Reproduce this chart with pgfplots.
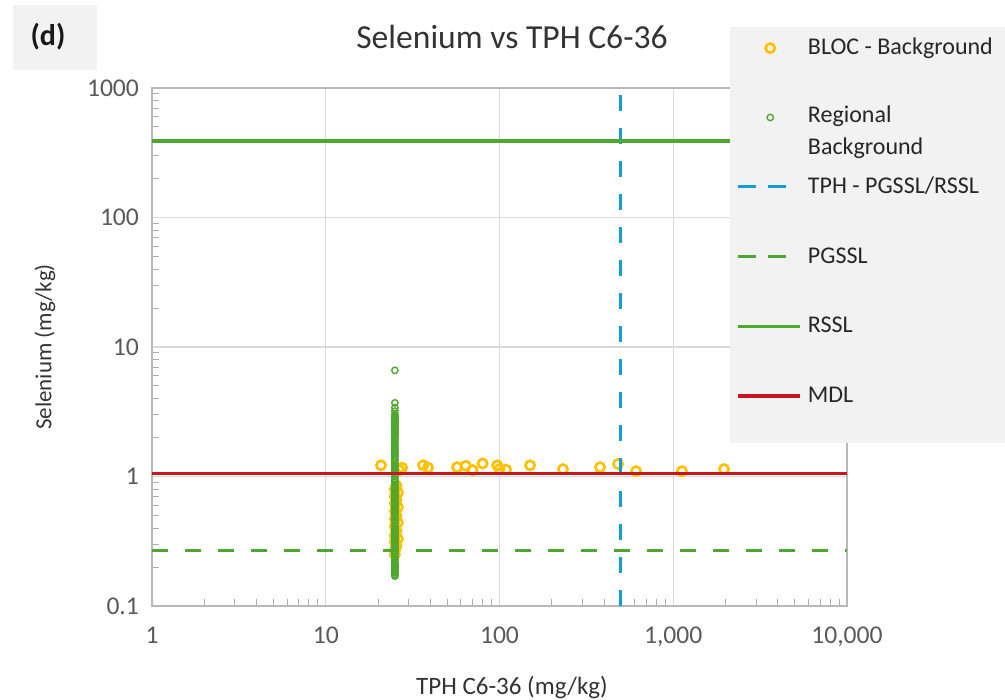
\documentclass[border=0pt]{standalone}
\usepackage{fontspec}
\setmainfont{Carlito}
\usepackage{pgfplots}
\pgfplotsset{compat=1.18}
\definecolor{bloc}{HTML}{FFC000}
\definecolor{regional}{HTML}{4EA72E}
\definecolor{tphblue}{HTML}{0F9ED5}
\definecolor{mdlred}{HTML}{C8161E}
\definecolor{gridgray}{HTML}{D9D9D9}
\definecolor{boxgray}{HTML}{F2F2F2}
\definecolor{txtgray}{HTML}{595959}

\pgfplotsset{
  linelegend/.style={legend image code/.code={\draw[##1] (0pt,0pt) -- (31pt,0pt);}},
  dashlegend/.style={legend image code/.code={\draw[##1, dash pattern=on 9pt off 6pt] (0pt,0pt) -- (24pt,0pt);}},
  marklegend/.style={legend image code/.code={\draw[mark repeat=2,mark phase=2,##1] plot coordinates {(0pt,0pt) (16pt,0pt) (31pt,0pt)};}},
}

\begin{document}
\begin{tikzpicture}
\path[use as bounding box] (0pt,0pt) rectangle (502.5pt,350pt);
\begin{axis}[
  at={(76pt,47pt)}, anchor=south west,
  scale only axis, width=347.5pt, height=259pt,
  xmode=log, ymode=log,
  xmin=1, xmax=10000, ymin=0.1, ymax=1000,
  xtick={1,10,100,1000,10000},
  xticklabels={1,10,100,{1,000},{10,000}},
  ytick={0.1,1,10,100,1000},
  yticklabels={0.1,1,10,100,1000},
  minor xtick={2,3,4,5,6,7,8,9,20,30,40,50,60,70,80,90,200,300,400,500,600,700,800,900,2000,3000,4000,5000,6000,7000,8000,9000},
  minor ytick={0.2,0.3,0.4,0.5,0.6,0.7,0.8,0.9,2,3,4,5,6,7,8,9,20,30,40,50,60,70,80,90,200,300,400,500,600,700,800,900},
  tick align=inside, tick pos=left,
  major tick length=0pt, minor tick length=3.5pt,
  minor tick style={gridgray!80!black, line width=0.5pt},
  xmajorgrids, ymajorgrids,
  major grid style={gridgray, line width=0.6pt},
  axis line style={gridgray!85!black, line width=0.6pt},
  ticklabel style={font=\fontsize{12.8}{15}\selectfont, text=txtgray},
  /pgf/number format/assume math mode=true,
  xticklabel style={yshift=-7pt},
  yticklabel style={xshift=-3pt},
  xlabel={TPH C6-36 (mg/kg)},
  ylabel={Selenium (mg/kg)},
  x label style={font=\fontsize{12.5}{14}\selectfont, text=black!80,
    at={(axis description cs:0.518,-0.158)}, anchor=center},
  y label style={font=\fontsize{11.5}{14}\selectfont, text=black!80,
    at={(axis description cs:-0.154,0.5)}, anchor=center},
  clip mode=individual,
  legend cell align=left,
  legend style={at={(0.8405,1.1045)}, anchor=north west, draw=none, fill=none,
    inner sep=0pt, row sep=21.5pt, column sep=1pt,
    font=\fontsize{12}{16}\selectfont, text=black!85,
    nodes={inner sep=2pt, align=left}},
]
% BLOC - Background
\addplot[only marks, mark=o, mark size=2.3pt, bloc, mark options={line width=1.35pt}, marklegend]
  coordinates {
  (25,0.25) (25,0.27) (25.5,0.29) (25,0.31) (26,0.33) (25,0.35) (25.5,0.38)
  (25,0.41) (26,0.44) (25,0.47) (25.5,0.50) (25,0.54) (26,0.58) (25,0.62)
  (25.5,0.66) (25,0.70) (26,0.75) (25,0.80) (25.5,0.85)
  (20.8,1.22) (26.5,1.12) (27.5,1.17) (36.3,1.22) (38.8,1.17) (57,1.18)
  (64,1.21) (70,1.12) (80,1.26) (97,1.22) (100,1.14) (109,1.13) (150,1.22)
  (232,1.14) (379,1.18) (481,1.25) (611,1.10) (1122,1.10) (1960,1.14)
  };
\addlegendentry{BLOC - Background}
% Regional Background
\addplot[only marks, mark=o, mark size=1.6pt, regional, mark options={line width=0.7pt}, marklegend]
  coordinates {
  (25,0.17) (25,0.175) (25,0.18) (25,0.185) (25,0.19) (25,0.195) (25,0.20)
  (25,0.205) (25,0.21) (25,0.215) (25,0.22) (25,0.23) (25,0.24) (25,0.25)
  (25,0.26) (25,0.27) (25,0.28) (25,0.29) (25,0.30) (25,0.31) (25,0.32)
  (25,0.33) (25,0.34) (25,0.35) (25,0.36) (25,0.37) (25,0.38) (25,0.39)
  (25,0.40) (25,0.42) (25,0.44) (25,0.46) (25,0.48) (25,0.50) (25,0.52)
  (25,0.54) (25,0.56) (25,0.58) (25,0.60) (25,0.62) (25,0.64) (25,0.66)
  (25,0.68) (25,0.70) (25,0.72) (25,0.75) (25,0.78) (25,0.80) (25,0.83)
  (25,0.86) (25,0.90) (25,0.93) (25,0.96) (25,1.00) (25,1.04) (25,1.08)
  (25,1.12) (25,1.16) (25,1.20) (25,1.25) (25,1.30) (25,1.35) (25,1.40)
  (25,1.45) (25,1.50) (25,1.55) (25,1.60) (25,1.66) (25,1.72) (25,1.78)
  (25,1.85) (25,1.92) (25,2.00) (25,2.05) (25,2.10) (25,2.15) (25,2.20)
  (25,2.25) (25,2.30) (25,2.35) (25,2.40) (25,2.45) (25,2.50) (25,2.55)
  (25,2.60) (25,2.65) (25,2.70) (25,2.75) (25,2.80) (25,2.85) (25,2.90)
  (25,2.95) (25,3.00) (25,3.20) (25,3.40) (25,3.70) (25,6.60)
  };
\addlegendentry{\raisebox{0pt}[7pt][0pt]{\begin{tabular}[t]{@{}l@{}}Regional\\Background\end{tabular}}}
% TPH - PGSSL/RSSL
\addplot[tphblue, line width=1.5pt, dash pattern=on 8pt off 8.5pt, dashlegend]
  coordinates {(500,0.1) (500,1000)};
\addlegendentry{TPH - PGSSL/RSSL}
% PGSSL
\addplot[regional, line width=1.5pt, dash pattern=on 8pt off 8.5pt, dashlegend]
  coordinates {(1,0.27) (10000,0.27)};
\addlegendentry{PGSSL}
% RSSL
\addplot[regional, line width=1.6pt, linelegend]
  coordinates {(1,390) (10000,390)};
\addlegendentry{RSSL}
% MDL
\addplot[mdlred, line width=1.7pt, linelegend]
  coordinates {(1,1.06) (10000,1.06)};
\addlegendentry{MDL}
% legend panel
\fill[boxgray] (rel axis cs:0.8317,0.3147) rectangle (rel axis cs:1.35,1.1178);
\end{axis}
% panel tag and title
\fill[boxgray] (6.5pt,315pt) rectangle (48.5pt,347.5pt);
\node[font=\fontsize{15}{17}\selectfont\bfseries, text=black!90] at (24pt,331.5pt) {(d)};
\node[font=\fontsize{16.8}{19}\selectfont, text=black!80] at (256pt,331.5pt) {Selenium vs TPH C6-36};
\end{tikzpicture}
\end{document}
